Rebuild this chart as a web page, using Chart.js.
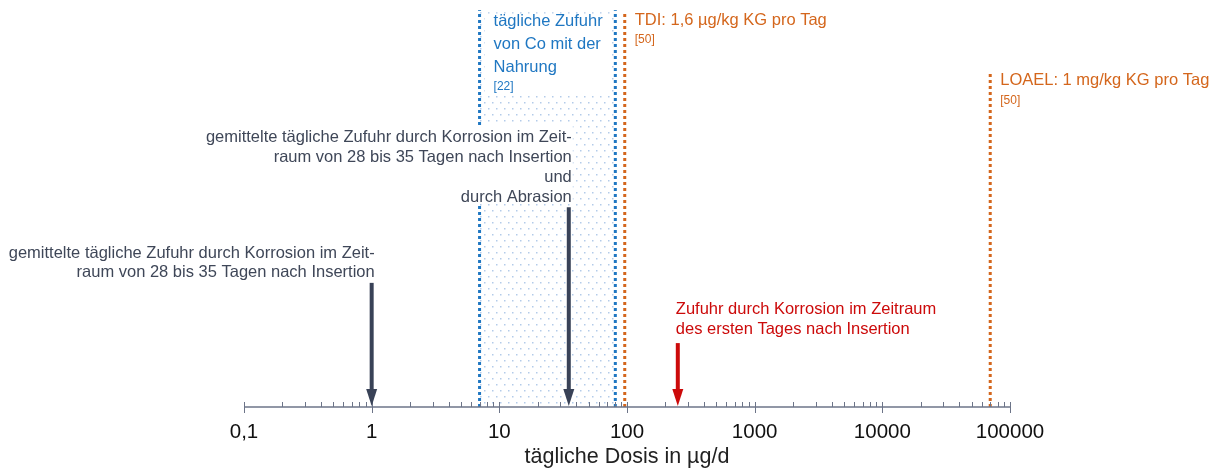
<!DOCTYPE html>
<html>
<head>
<meta charset="utf-8">
<script src="https://cdn.jsdelivr.net/npm/chart.js@4.4.1/dist/chart.umd.min.js"></script>
<style>
  body { margin: 0; background: #fff; }
</style>
</head>
<body>
<canvas id="doseChart" width="1217" height="470"></canvas>
<script>
// tick labels of the log axis (German decimal comma)
var decades = [0.1, 1, 10, 100, 1000, 10000, 100000];
var decadeLabels = ["0,1", "1", "10", "100", "1000", "10000", "100000"];

// daily intake with food: range in µg/d
var dietRange = [7, 81];
// limits: TDI and LOAEL in µg/d
var limitNames = ["TDI", "LOAEL"];
var limitValues = [96, 70000];
// arrows: corrosion 28-35 d, corrosion + abrasion, corrosion first day
var arrowValues = [1, 35, 250];

var BLUE = "#1f77c2";
var ORANGE = "#d4661c";
var RED = "#cc0a0a";
var SLATE = "#394257";
var GRAYTXT = "#3f4758";
var FONT = "'Liberation Sans', Arial, sans-serif";
var TXT = "16.5px " + FONT;
var REF = "12px " + FONT;

function vline(x, top, color) {
  return {
    data: [{ x: x, y: 0 }, { x: x, y: top }],
    borderColor: color,
    borderWidth: 3,
    borderDash: [3, 3],
    pointRadius: 0,
    borderCapStyle: "butt"
  };
}

function arrowShaft(x, top, color) {
  return {
    data: [{ x: x, y: 4 }, { x: x, y: top }],
    borderColor: color,
    borderWidth: 4,
    pointRadius: 0,
    borderCapStyle: "butt"
  };
}

// dotted fill pattern for the food intake range
function dotPattern() {
  var c = document.createElement("canvas");
  c.width = 8; c.height = 12;
  var g = c.getContext("2d");
  g.fillStyle = "#b3cbe9";
  g.fillRect(0, 0, 1.5, 1.5);
  g.fillRect(4, 6, 1.5, 1.5);
  return c;
}

var annotations = {
  id: "annotations",
  beforeDatasetsDraw: function (chart) {
    var ctx = chart.ctx, x = chart.scales.x, y = chart.scales.y;
    var x0 = x.getPixelForValue(dietRange[0]);
    var x1 = x.getPixelForValue(dietRange[1]);
    var top = y.getPixelForValue(97);
    ctx.save();
    ctx.fillStyle = ctx.createPattern(dotPattern(), "repeat");
    ctx.fillRect(x0, top, x1 - x0, y.getPixelForValue(0) - top);
    ctx.restore();
  },
  afterDatasetsDraw: function (chart) {
    var ctx = chart.ctx, x = chart.scales.x, y = chart.scales.y;
    var base = y.getPixelForValue(0);
    ctx.save();

    // axis line and ticks
    ctx.strokeStyle = "#6c7488";
    ctx.lineWidth = 1.3;
    ctx.beginPath();
    ctx.moveTo(x.getPixelForValue(0.1), base);
    ctx.lineTo(x.getPixelForValue(100000), base);
    ctx.stroke();
    ctx.lineWidth = 1;
    for (var d = 0; d < decades.length; d++) {
      for (var m = 1; m <= 9; m++) {
        var v = decades[d] * m;
        if (v > 100000) break;
        var px = Math.round(x.getPixelForValue(v)) + 0.5;
        ctx.beginPath();
        ctx.moveTo(px, base - 5);
        ctx.lineTo(px, m === 1 ? base + 6 : base);
        ctx.stroke();
      }
    }

    // arrow heads
    var heads = [SLATE, SLATE, RED];
    arrowValues.forEach(function (v, i) {
      var px = x.getPixelForValue(v);
      ctx.fillStyle = heads[i];
      ctx.beginPath();
      ctx.moveTo(px, base - 1);
      ctx.lineTo(px - 5.5, base - 18);
      ctx.lineTo(px + 5.5, base - 18);
      ctx.closePath();
      ctx.fill();
    });

    ctx.textBaseline = "middle";

    // food intake label box
    var bx0 = x.getPixelForValue(dietRange[0]);
    var bx1 = x.getPixelForValue(dietRange[1]);
    ctx.fillStyle = "#fff";
    ctx.fillRect(bx0 + 5, 15, bx1 - bx0 - 10, 81);
    ctx.fillStyle = BLUE;
    ctx.textAlign = "left";
    ctx.font = TXT;
    ctx.fillText("tägliche Zufuhr", bx0 + 14, 21);
    ctx.fillText("von Co mit der", bx0 + 14, 44);
    ctx.fillText("Nahrung", bx0 + 14, 67);
    ctx.font = REF;
    ctx.fillText("[22]", bx0 + 14, 87);

    // limit labels
    var lx = x.getPixelForValue(limitValues[0]) + 10;
    ctx.fillStyle = ORANGE;
    ctx.font = TXT;
    ctx.fillText(limitNames[0] + ": 1,6 µg/kg KG pro Tag", lx, 20);
    ctx.font = REF;
    ctx.fillText("[50]", lx, 40);
    lx = x.getPixelForValue(limitValues[1]) + 10;
    ctx.font = TXT;
    ctx.fillText(limitNames[1] + ": 1 mg/kg KG pro Tag", lx, 80);
    ctx.font = REF;
    ctx.fillText("[50]", lx, 101);

    // corrosion + abrasion label (covers the range line)
    ctx.font = TXT;
    ctx.textAlign = "right";
    var r2 = x.getPixelForValue(arrowValues[1]) + 3;
    var lines2 = ["gemittelte tägliche Zufuhr durch Korrosion im Zeit-",
                  "raum von 28 bis 35 Tagen nach Insertion", "und", "durch Abrasion"];
    var w2 = ctx.measureText(lines2[0]).width;
    ctx.fillStyle = "#fff";
    ctx.fillRect(r2 - w2 - 4, 125, w2 + 5, 79);
    ctx.fillStyle = GRAYTXT;
    lines2.forEach(function (t, i) { ctx.fillText(t, r2, 137 + i * 20.3); });

    // corrosion label
    var r1 = x.getPixelForValue(arrowValues[0]) + 3;
    ctx.fillText("gemittelte tägliche Zufuhr durch Korrosion im Zeit-", r1, 253);
    ctx.fillText("raum von 28 bis 35 Tagen nach Insertion", r1, 272);

    // first day label
    ctx.textAlign = "left";
    ctx.fillStyle = RED;
    var r3 = x.getPixelForValue(arrowValues[2]) - 2;
    ctx.fillText("Zufuhr durch Korrosion im Zeitraum", r3, 309);
    ctx.fillText("des ersten Tages nach Insertion", r3, 329);

    ctx.restore();
  }
};

var ctx = document.getElementById("doseChart").getContext("2d");

var doseChart = new Chart(ctx, {
  type: "line",
  data: {
    datasets: [
      vline(dietRange[0], 97.5, BLUE),
      vline(dietRange[1], 97.5, BLUE),
      vline(limitValues[0], 96.8, ORANGE),
      vline(limitValues[1], 82.3, ORANGE),
      arrowShaft(arrowValues[0], 30.5, SLATE),
      arrowShaft(arrowValues[1], 49.1, SLATE),
      arrowShaft(arrowValues[2], 15.7, RED)
    ]
  },
  options: {
    responsive: false,
    animation: false,
    layout: { padding: { left: 244, right: 207, top: 0, bottom: 0 } },
    plugins: { legend: { display: false }, tooltip: { enabled: false } },
    scales: {
      x: {
        type: "logarithmic",
        min: 0.1,
        max: 100000,
        afterBuildTicks: function (scale) {
          scale.ticks = decades.map(function (v) { return { value: v }; });
        },
        afterFit: function (scale) { scale.height = 63; },
        ticks: {
          callback: function (value, index) { return decadeLabels[index]; },
          font: { size: 20.5, family: FONT },
          color: "#111",
          padding: 13,
          maxRotation: 0,
          autoSkip: false
        },
        grid: { display: false, drawTicks: false },
        border: { display: false },
        title: {
          display: true,
          text: "tägliche Dosis in µg/d",
          font: { size: 21.5, family: FONT },
          color: "#222",
          padding: { top: 3, bottom: 0 }
        }
      },
      y: { display: false, min: 0, max: 100 }
    }
  },
  plugins: [annotations]
});
</script>
</body>
</html>
